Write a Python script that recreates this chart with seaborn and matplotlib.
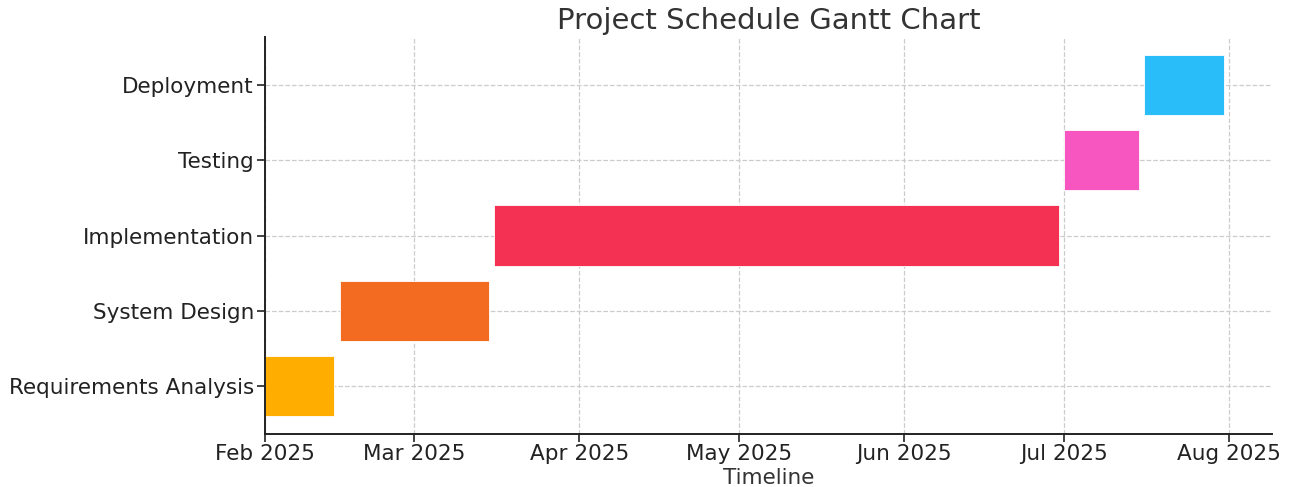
import pandas as pd
import matplotlib
matplotlib.use("Agg")
import matplotlib.pyplot as plt
import matplotlib.dates as mdates
import seaborn as sns

# Gantt data
tasks = ["Requirements Analysis", "System Design", "Implementation", "Testing", "Deployment"]
start_dates = ["2025-02-01", "2025-02-15", "2025-03-16", "2025-07-01", "2025-07-16"]
end_dates = ["2025-02-14", "2025-03-15", "2025-06-30", "2025-07-15", "2025-07-31"]
task_colors = ["#FFAE00", "#F26B21", "#F43152", "#F755C0", "#29BDFA"]

df = pd.DataFrame({
    "task": tasks,
    "start": pd.to_datetime(start_dates),
    "end": pd.to_datetime(end_dates),
})
df["start_num"] = mdates.date2num(df["start"])
df["duration"] = mdates.date2num(df["end"]) - df["start_num"]

sns.set_theme(style="ticks")
plt.rcParams["font.family"] = ["DejaVu Sans"]

fig = plt.figure(figsize=(12.91, 4.87), dpi=100)
ax = fig.add_axes([0.2053, 0.1088, 0.78, 0.815])

ax.barh(df["task"], df["duration"], left=df["start_num"], height=0.8,
        color=task_colors, edgecolor="white", linewidth=0.6, zorder=2)

ax.xaxis.set_major_locator(mdates.MonthLocator())
ax.xaxis.set_major_formatter(mdates.DateFormatter("%b %Y"))
ax.set_xlim(mdates.date2num(pd.Timestamp("2025-02-01")),
            mdates.date2num(pd.Timestamp("2025-08-09")))

ax.grid(True, linestyle="--", color="#cccccc", linewidth=0.9, zorder=0)
ax.set_axisbelow(True)
sns.despine(ax=ax)
ax.spines["left"].set_color("#222222")
ax.spines["bottom"].set_color("#222222")
ax.spines["left"].set_linewidth(1.4)
ax.spines["bottom"].set_linewidth(1.4)
ax.tick_params(axis="both", labelsize=15.5, colors="#222222", length=6, width=1.2)
ax.tick_params(axis="y", pad=2)
ax.tick_params(axis="x", pad=1)

ax.set_xlabel("Timeline", fontsize=15.5, color="#333333", labelpad=3)
ax.set_ylabel("")
ax.set_title("Project Schedule Gantt Chart", fontsize=21, color="#333333", pad=6)

fig.savefig("out.png", dpi=100)
